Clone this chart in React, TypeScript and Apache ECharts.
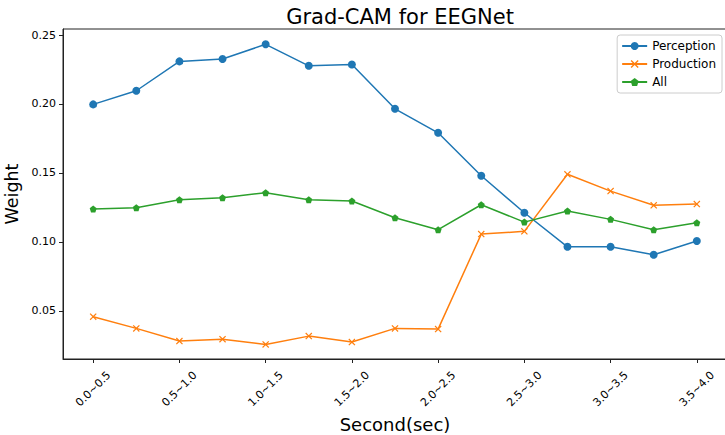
import React, { useEffect, useRef } from "react";
import * as echarts from "echarts";

const categories = [
  "0.0~0.5", "0.25~0.75", "0.5~1.0", "0.75~1.25", "1.0~1.5", "1.25~1.75", "1.5~2.0", "1.75~2.25",
  "2.0~2.5", "2.25~2.75", "2.5~3.0", "2.75~3.25", "3.0~3.5", "3.25~3.75", "3.5~4.0",
];
const labelIndices = [0, 2, 4, 6, 8, 10, 12, 14];
const yTicks = [0.05, 0.1, 0.15, 0.2, 0.25];

const perception = [0.1997, 0.2096, 0.2309, 0.2326, 0.2433, 0.2277, 0.2287, 0.1965, 0.1791, 0.1479, 0.1211, 0.0964, 0.0964, 0.0906, 0.1006];
const production = [0.0457, 0.0372, 0.028, 0.0294, 0.0256, 0.0316, 0.0273, 0.0372, 0.0367, 0.1056, 0.1076, 0.149, 0.1368, 0.1265, 0.1274];
const all = [0.1238, 0.1247, 0.1305, 0.132, 0.1356, 0.1305, 0.1296, 0.1175, 0.1088, 0.1269, 0.1143, 0.1223, 0.1163, 0.1088, 0.1138];

const FONT = "DejaVu Sans";
const X_SYMBOL = "path://M0.12,0 L0.5,0.38 L0.88,0 L1,0.12 L0.62,0.5 L1,0.88 L0.88,1 L0.5,0.62 L0.12,1 L0,0.88 L0.38,0.5 L0,0.12 Z";
const PENT_SYMBOL = "path://M0,-1 L0.951,-0.309 L0.588,0.809 L-0.588,0.809 L-0.951,-0.309 Z";

export default function App() {
  const ref = useRef<HTMLDivElement>(null);
  useEffect(() => {
    if (!ref.current) return;
    const chart = echarts.init(ref.current, null, { renderer: "svg" });
    const toPts = (arr: number[]) => arr.map((v, i) => [i, v]);
    const mk = (name: string, data: number[], color: string, symbol: string, size: number) => ({
      name,
      type: "line",
      data: toPts(data),
      symbol,
      symbolSize: size,
      showAllSymbol: true,
      lineStyle: { color, width: 1.5 },
      itemStyle: { color },
    });
    chart.setOption({
      animation: false,
      backgroundColor: "#fff",
      textStyle: { fontFamily: FONT },
      title: {
        text: "Grad-CAM for EEGNet",
        left: 395,
        textAlign: "center",
        top: 1,
        textStyle: { fontFamily: FONT, fontSize: 21, fontWeight: "normal", color: "#000" },
      },
      grid: {
        left: 63,
        top: 29,
        right: -2,
        bottom: 76,
        show: true,
        borderColor: "#222",
        borderWidth: 1,
        backgroundColor: "transparent",
        containLabel: false,
        outerBoundsMode: "none",
      },
      legend: {
        orient: "vertical",
        right: 3,
        top: 35,
        backgroundColor: "#fff",
        borderColor: "#ccc",
        borderWidth: 1,
        borderRadius: 3,
        padding: [4, 6, 4, 4],
        itemWidth: 25,
        itemHeight: 10,
        itemGap: 4,
        textStyle: { fontFamily: FONT, fontSize: 12, color: "#000", lineHeight: 14 },
        data: ["Perception", "Production", "All"],
      },
      xAxis: {
        type: "value",
        min: -0.7,
        max: 14.7,
        name: "Second(sec)",
        nameLocation: "middle",
        nameGap: 54,
        nameTextStyle: { fontFamily: FONT, fontSize: 18, color: "#000" },
        axisLine: { show: true, onZero: false, lineStyle: { color: "#222", width: 1 } },
        axisTick: { show: true, length: 4, customValues: labelIndices, lineStyle: { color: "#222" } },
        axisLabel: {
          customValues: labelIndices,
          rotate: 45,
          align: "center",
          verticalAlign: "middle",
          margin: 30,
          fontFamily: FONT,
          fontSize: 11,
          color: "#000",
          formatter: (v: number) => categories[Math.round(v)] ?? "",
        },
        splitLine: { show: false },
      },
      yAxis: {
        type: "value",
        min: 0.015,
        max: 0.2544,
        name: "Weight",
        nameLocation: "middle",
        nameGap: 36,
        nameTextStyle: { fontFamily: FONT, fontSize: 17.5, color: "#000" },
        axisLine: { show: true, onZero: false, lineStyle: { color: "#222", width: 1 } },
        axisTick: { show: true, length: 4, customValues: yTicks, lineStyle: { color: "#222" } },
        axisLabel: {
          customValues: yTicks,
          margin: 7,
          fontFamily: FONT,
          fontSize: 11,
          color: "#000",
          formatter: (v: number) => v.toFixed(2),
        },
        splitLine: { show: false },
      },
      series: [
        mk("Perception", perception, "#1f77b4", "circle", 8),
        mk("Production", production, "#ff7f0e", X_SYMBOL, 7),
        mk("All", all, "#2ca02c", PENT_SYMBOL, 7),
      ],
    });
    return () => chart.dispose();
  }, []);
  return <div ref={ref} style={{ position: "absolute", left: 0, top: 0, width: 725, height: 435 }} />;
}
